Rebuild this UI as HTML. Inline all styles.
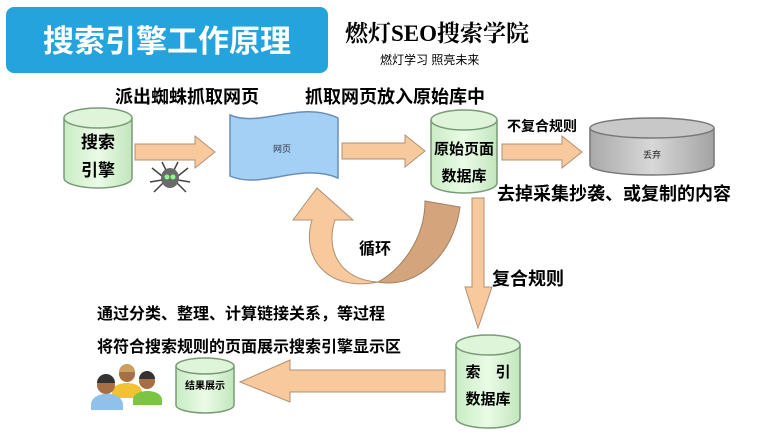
<!DOCTYPE html>
<html><head><meta charset="utf-8"><style>
body{margin:0;background:#fff;}
svg{display:block;}
text{font-family:"Liberation Sans","Noto Sans CJK SC",sans-serif;}
.b{font-weight:bold;fill:#000;}
</style></head><body>
<svg width="773" height="446" viewBox="0 0 773 446" xmlns="http://www.w3.org/2000/svg">
<defs>
<linearGradient id="g" x1="0" x2="1"><stop offset="0" stop-color="#c9ecc4"/><stop offset="0.5" stop-color="#eafbe6"/><stop offset="1" stop-color="#c2e6bc"/></linearGradient>
<linearGradient id="gr" x1="0" x2="1"><stop offset="0" stop-color="#a9a9a9"/><stop offset="0.5" stop-color="#d8d8d8"/><stop offset="1" stop-color="#a3a3a3"/></linearGradient>
</defs>
<rect x="6" y="7" width="322" height="66" rx="8" fill="#24a3dd"/>
<text x="167" y="52" text-anchor="middle" font-size="31" font-weight="bold" fill="#fff">搜索引擎工作原理</text>
<text x="345" y="41" font-size="23" font-weight="bold" fill="#000" style="font-family:'Liberation Serif','Noto Serif CJK SC',serif">燃灯SEO搜索学院</text>
<text x="380" y="64" font-size="12" fill="#000">燃灯学习 照亮未来</text>

<text x="115" y="103" class="b" font-size="18">派出蜘蛛抓取网页</text>
<text x="305" y="103" class="b" font-size="18">抓取网页放入原始库中</text>

<!-- cylinder 1 -->
<path d="M64 118 V178 A34 10 0 0 0 132 178 V118" fill="url(#g)" stroke="#7a9a78" stroke-width="1.5"/>
<ellipse cx="98" cy="118" rx="34" ry="10" fill="#dff5da" stroke="#7a9a78" stroke-width="1.5"/>
<text x="98" y="148" text-anchor="middle" class="b" font-size="17">搜索</text>
<text x="98" y="176" text-anchor="middle" class="b" font-size="17">引擎</text>

<!-- arrow 1 -->
<path d="M135 144 H195 V136 L215 152 L195 168 V160 H135 Z" fill="#f9c99e" stroke="#b09070"/>
<!-- spider -->
<g transform="translate(170,178)">
<path d="M-8 -2 L-18 -10 M-8 2 L-20 4 M-7 5 L-16 14 M8 -2 L18 -10 M8 2 L20 4 M7 5 L16 14 M-4 -8 L-8 -16 M4 -8 L8 -16" stroke="#444" stroke-width="1.5"/>
<ellipse cx="0" cy="0" rx="9" ry="10" fill="#6a6a6a"/>
<circle cx="-3" cy="-1" r="2.5" fill="#8f8"/><circle cx="3" cy="-1" r="2.5" fill="#8f8"/>
</g>

<!-- web page -->
<path d="M230 115 C260 128 300 100 338 118 V178 C300 162 262 190 230 176 Z" fill="#a5d0f6" stroke="#6a8fb5" stroke-width="1.5"/>
<text x="282" y="152" text-anchor="middle" font-size="9" fill="#334">网页</text>

<!-- arrow 2 -->
<path d="M342 143 H405 V135 L425 151 L405 167 V159 H342 Z" fill="#f9c99e" stroke="#b09070"/>

<!-- cylinder raw -->
<path d="M431 120 V183 A33 10 0 0 0 497 183 V120" fill="url(#g)" stroke="#7a9a78" stroke-width="1.5"/>
<ellipse cx="464" cy="120" rx="33" ry="10" fill="#dff5da" stroke="#7a9a78" stroke-width="1.5"/>
<text x="464" y="154" text-anchor="middle" class="b" font-size="15">原始页面</text>
<text x="464" y="181" text-anchor="middle" class="b" font-size="15">数据库</text>

<text x="507" y="131" class="b" font-size="14">不复合规则</text>
<!-- arrow 3 -->
<path d="M502 144 H562 V136 L582 152 L562 168 V160 H502 Z" fill="#f9c99e" stroke="#b09070"/>
<!-- gray cylinder -->
<path d="M590 128 V165 A62 10 0 0 0 714 165 V128" fill="url(#gr)" stroke="#777" stroke-width="1.5"/>
<ellipse cx="652" cy="128" rx="62" ry="10" fill="#c8c8c8" stroke="#777" stroke-width="1.5"/>
<text x="652" y="158" text-anchor="middle" font-size="9" fill="#222">丢弃</text>

<text x="497" y="200" class="b" font-size="18">去掉采集抄袭、或复制的内容</text>

<!-- loop arrow -->
<path d="M425 201 L460 207 C455 250 420 290 378 282 C400 270 425 240 425 201 Z" fill="#d4a57d" stroke="#a08060"/>
<path d="M378 282 C340 280 325 250 335 220 L353 220 L317 188 L293 220 L312 220 C300 260 330 292 378 282 Z" fill="#f9c99e" stroke="#b09070"/>
<text x="375" y="254" text-anchor="middle" class="b" font-size="16">循环</text>

<!-- down arrow -->
<path d="M472 198 H484 V287 H492 L478 328 L465 287 H472 Z" fill="#f9c99e" stroke="#b09070"/>
<text x="492" y="285" class="b" font-size="18">复合规则</text>

<text x="97" y="319" class="b" font-size="16">通过分类、整理、计算链接关系，等过程</text>
<text x="97" y="352" class="b" font-size="16">将符合搜索规则的页面展示搜索引擎显示区</text>

<!-- index cylinder -->
<path d="M456 345 V418 A32 10 0 0 0 520 418 V345" fill="url(#g)" stroke="#7a9a78" stroke-width="1.5"/>
<ellipse cx="488" cy="345" rx="32" ry="10" fill="#dff5da" stroke="#7a9a78" stroke-width="1.5"/>
<text x="488" y="377" text-anchor="middle" class="b" font-size="15">索　引</text>
<text x="488" y="404" text-anchor="middle" class="b" font-size="15">数据库</text>

<!-- left arrow -->
<path d="M445 370 H290 V360 L240 382 L290 402 V392 H445 Z" fill="#f9c99e" stroke="#b09070"/>

<!-- result cylinder -->
<path d="M176 366 V405 A29 8 0 0 0 234 405 V366" fill="url(#g)" stroke="#7a9a78" stroke-width="1.5"/>
<ellipse cx="205" cy="366" rx="29" ry="8" fill="#dff5da" stroke="#7a9a78" stroke-width="1.5"/>
<text x="205" y="389" text-anchor="middle" class="b" font-size="10">结果展示</text>

<!-- people -->
<g>
<path d="M112 392 C112 380 142 380 142 392 L142 398 H112 Z" fill="#f1c232"/>
<circle cx="127" cy="374" r="8" fill="#a86f45"/><path d="M119 372 A8 8 0 0 1 135 372 Z" fill="#c9a060"/>
<path d="M133 400 C133 388 162 388 162 400 L162 405 H133 Z" fill="#7cc443"/>
<circle cx="147" cy="381" r="8" fill="#a86f45"/><path d="M139 379 A8 8 0 0 1 155 379 Z" fill="#333"/>
<path d="M91 405 C91 390 123 390 123 405 L123 410 H91 Z" fill="#8fc1ea"/>
<circle cx="106" cy="385" r="9" fill="#a86f45"/><path d="M97 383 A9 9 0 0 1 115 383 Z" fill="#333"/>
</g>
</svg>
</body></html>
